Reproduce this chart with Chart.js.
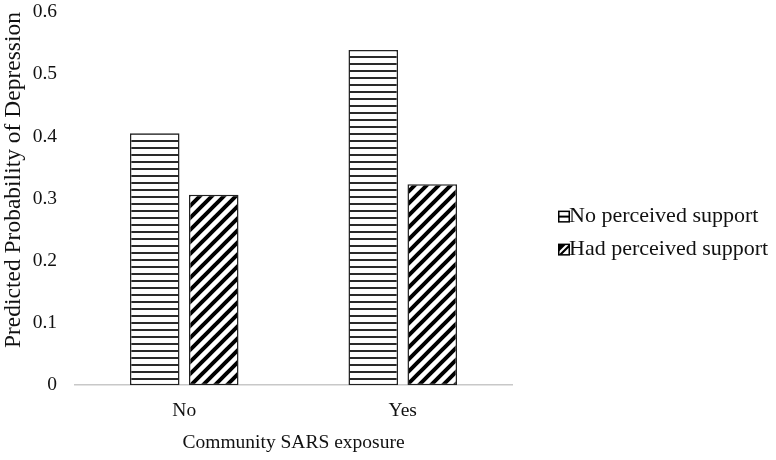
<!DOCTYPE html>
<html>
<head>
<meta charset="utf-8">
<script src="https://cdn.jsdelivr.net/npm/chart.js@4.4.0/dist/chart.umd.min.js"></script>
<style>
  html, body { margin: 0; padding: 0; background: #fff; }
  #wrap { width: 776px; height: 460px; }
</style>
</head>
<body>
<div id="wrap"><canvas id="chart" width="776" height="460"></canvas></div>
<script>
// values
const categories = ['No', 'Yes'];
const seriesNames = ['No perceived support', 'Had perceived support'];
const noSupport = [0.405, 0.539];
const hadSupport = [0.306, 0.323];
const yTicks = [0, 0.1, 0.2, 0.3, 0.4, 0.5, 0.6];

const font = 'Liberation Serif, Times New Roman, serif';

// hatch fills
function horizPattern() {
  const c = document.createElement('canvas');
  c.width = 8; c.height = 7;
  const g = c.getContext('2d');
  g.fillStyle = '#fff';
  g.fillRect(0, 0, 8, 7);
  g.fillStyle = '#2a2a2a';
  g.fillRect(0, 0, 8, 2);
  return g.createPattern(c, 'repeat');
}

function diagPattern() {
  const s = 12;
  const c = document.createElement('canvas');
  c.width = s; c.height = s;
  const g = c.getContext('2d');
  g.fillStyle = '#fff';
  g.fillRect(0, 0, s, s);
  g.strokeStyle = '#000';
  g.lineWidth = 4;
  g.beginPath();
  g.moveTo(-2, s + 2); g.lineTo(s + 2, -2);
  g.moveTo(-2 - s, s + 2); g.lineTo(2, -2);
  g.moveTo(s - 2, s + 2); g.lineTo(s + 2 + s, -2);
  g.stroke();
  return g.createPattern(c, 'repeat');
}

function drawIcon(g, kind, x, y) {
  g.save();
  g.fillStyle = '#fff';
  g.fillRect(x, y, 12, 12);
  g.fillStyle = '#000';
  if (kind === 0) {
    g.fillRect(x + 1, y + 5, 10, 2);
  } else {
    g.beginPath();
    g.moveTo(x + 1, y + 11); g.lineTo(x + 11, y + 1); g.lineTo(x + 11, y + 4); g.lineTo(x + 4, y + 11);
    g.closePath(); g.fill();
    g.beginPath();
    g.moveTo(x + 1, y + 8); g.lineTo(x + 8, y + 1); g.lineTo(x + 1, y + 1);
    g.closePath(); g.fill();
  }
  g.strokeStyle = '#000';
  g.lineWidth = 1.5;
  g.strokeRect(x + 0.75, y + 0.75, 10.5, 10.5);
  g.restore();
}

// legend drawn to the right of the plot, like the original
const sideLegend = {
  id: 'sideLegend',
  afterDraw(chart) {
    const g = chart.ctx;
    const area = chart.chartArea;
    const x0 = area.right + 46;
    const mid = (area.top + area.bottom) / 2;
    g.save();
    g.font = '22px ' + font;
    g.fillStyle = '#111';
    g.textBaseline = 'middle';
    chart.data.datasets.forEach((ds, i) => {
      const cy = mid + 18 + i * 33;
      drawIcon(g, i, x0, cy - 6);
      g.fillText(ds.label, x0 + 11, cy);
    });
    g.restore();
  }
};

new Chart(document.getElementById('chart'), {
  type: 'bar',
  data: {
    labels: categories,
    datasets: [
      {
        label: seriesNames[0],
        data: noSupport,
        backgroundColor: horizPattern(),
        borderColor: '#222',
        borderWidth: 1.5,
        borderSkipped: false
      },
      {
        label: seriesNames[1],
        data: hadSupport,
        backgroundColor: diagPattern(),
        borderColor: '#222',
        borderWidth: 1.5,
        borderSkipped: false
      }
    ]
  },
  plugins: [sideLegend],
  options: {
    responsive: false,
    animation: false,
    categoryPercentage: 0.54,
    barPercentage: 0.84,
    layout: { padding: { top: 0, right: 264, left: 0, bottom: 5 } },
    plugins: {
      tooltip: { enabled: false },
      legend: { display: false }
    },
    scales: {
      x: {
        grid: { display: false, drawTicks: false },
        border: { display: true, color: '#c8c8c8', width: 1.5 },
        ticks: { color: '#111', font: { family: font, size: 19.5 }, padding: 14 },
        title: {
          display: true,
          text: 'Community SARS exposure',
          color: '#111',
          font: { family: font, size: 19.5 },
          padding: { top: -5, bottom: 0 }
        }
      },
      y: {
        min: 0,
        max: 0.6,
        afterBuildTicks: axis => { axis.ticks = yTicks.map(v => ({ value: v })); },
        afterFit: axis => {
          axis.width = 75;
          axis.paddingTop = 12;
        },
        grid: { display: false, drawTicks: false },
        border: { display: false },
        ticks: {
          color: '#111',
          font: { family: font, size: 19.5 },
          padding: 18,
          callback: v => String(v)
        },
        title: {
          display: true,
          text: 'Predicted Probability of Depression',
          align: 'end',
          color: '#111',
          font: { family: font, size: 23.5 },
          padding: { top: 0, bottom: 4 }
        }
      }
    }
  }
});
</script>
</body>
</html>
